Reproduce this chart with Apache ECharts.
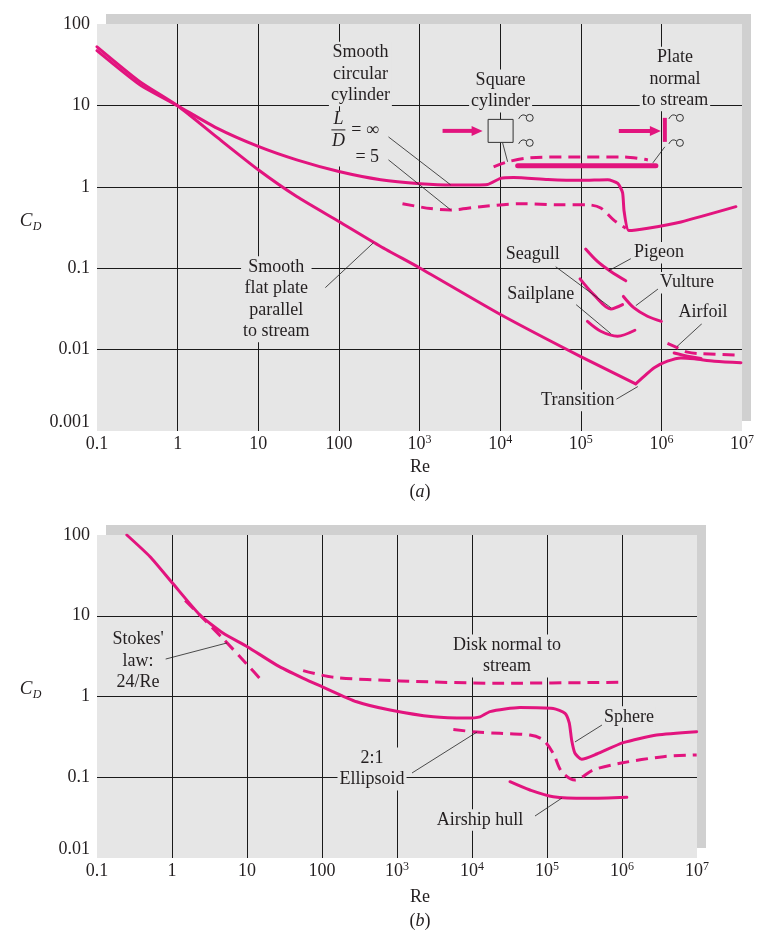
<!DOCTYPE html>
<html><head><meta charset="utf-8">
<script src="https://cdn.jsdelivr.net/npm/echarts@6/dist/echarts.min.js"></script>
<style>html,body{margin:0;padding:0;background:#fff}#c{width:774px;height:948px}</style>
</head><body><div id="c"></div>
<script>
const FONT = "'Liberation Serif','Times New Roman',serif";
const PINK = '#e2147e';
const TXT = '#231f20';
const BG = '#e6e6e6';
const SHADOW = '#d0d0d0';

// ---------- tick labels ----------
const xTickLabels = ['0.1','1','10','100','10^3','10^4','10^5','10^6','10^7'];   // exponent -1..7
const yTickLabelsA = ['0.001','0.01','0.1','1','10','100'];                      // exponent -3..2
const yTickLabelsB = ['0.01','0.1','1','10','100'];                              // exponent -2..2

// ---------- panel (a) data : [Re, CD] ----------
const flatPlate = [[0.1,52.5],[0.34,19.6],[1,9.9],[3.07,4.07],[10,1.62],[30,0.76],[100,0.375],[330,0.185],[1020,0.1],[10100,0.027],[1e5,0.0082],[4.8e5,0.0038]];
const flatTransition = [[4.8e5,0.0038],[6.1e5,0.0047],[8.15e5,0.006],[1.19e6,0.0072],[1.75e6,0.0079],[2.56e6,0.0077],[4.53e6,0.0072],[9.7e6,0.0069]];
const cylinderInf = [[0.1,47],[0.34,17.9],[1,9.9],[3.07,5.25],[10,3.13],[30,2.14],[100,1.54],[330,1.22],[1020,1.09],[2600,1.05],[7000,1.07],[10100,1.27],[14700,1.3],[39000,1.23],[1e5,1.2],[2.16e5,1.22],[2.88e5,1.1],[3.3e5,0.85],[3.45e5,0.5],[3.95e5,0.29],[6.8e5,0.31],[1.75e6,0.37],[8.4e6,0.57]];
const cylinder5 = [[615,0.62],[1370,0.54],[2430,0.52],[5730,0.57],[18000,0.62],[56000,0.6],[1.22e5,0.6],[1.77e5,0.55],[2.57e5,0.39],[3.62e5,0.31]];
const squareCyl = [[8300,1.76],[12400,2.03],[23900,2.27],[1e5,2.33],[3.42e5,2.33],[6.8e5,2.14]];
const plateNormal = [[16500,1.81],[8.55e5,1.81]];
const pigeon = [[1.15e5,0.172],[1.61e5,0.121],[2.36e5,0.091],[3.62e5,0.07]];
const seagull = [[9.8e4,0.074],[1.46e5,0.047],[2.36e5,0.0316],[3.3e5,0.0357]];
const vulture = [[3.38e5,0.045],[4.58e5,0.0325],[6.72e5,0.0257],[1.0e6,0.0222]];
const sailplane = [[1.21e5,0.0222],[1.77e5,0.0168],[2.86e5,0.0146],[4.69e5,0.0173]];
const airfoilSolid = [[1.44e6,0.0091],[2.11e6,0.0083],[3.1e6,0.0078]];
const airfoilDashed = [[1.19e6,0.0119],[1.59e6,0.0105],[2.11e6,0.0093],[3.1e6,0.0089],[8.4e6,0.0086]];

// ---------- panel (b) data ----------
const sphere = [[0.25,100],[0.51,53.8],[1.02,25.2],[2.36,10.2],[4.83,6.07],[10.1,4.14],[24.9,2.45],[56.4,1.68],[101,1.32],[290,0.86],[807,0.68],[3050,0.56],[8500,0.54],[12800,0.56],[17400,0.65],[43600,0.73],[1.21e5,0.71],[1.74e5,0.62],[1.98e5,0.47],[2.13e5,0.29],[2.36e5,0.198],[2.9e5,0.167],[4.6e5,0.194],[1.04e6,0.268],[2.9e6,0.333],[9.9e6,0.366]];
const stokes = [[1.5,15.5],[2.4,10],[4.8,5.2],[10,2.5],[16.5,1.5]];
const disk = [[56,2.09],[142,1.73],[1100,1.56],[23600,1.46],[9.2e5,1.5]];
const ellipsoid = [[5640,0.39],[11600,0.363],[23600,0.35],[59300,0.333],[89000,0.29],[1.21e5,0.198],[1.57e5,0.117],[2.36e5,0.0925],[4.14e5,0.123],[9.4e5,0.149],[3.56e6,0.18],[9.9e6,0.189]];
const airship = [[32100,0.088],[59300,0.0695],[1.21e5,0.0574],[3.38e5,0.0548],[1.16e6,0.0565]];

// ---------- annotations (positions as [log10 Re, log10 CD]) ----------
const notesA = [
  {text:'Smooth\ncircular\ncylinder', at:[2.267,1.387]},
  {text:'Square\ncylinder', at:[4.006,1.178]},
  {text:'Plate\nnormal\nto stream', at:[6.168,1.325]},
  {text:'Seagull', at:[4.404,-0.834]},
  {text:'Sailplane', at:[4.503,-1.325]},
  {text:'Pigeon', at:[5.969,-0.810]},
  {text:'Vulture', at:[6.317,-1.178]},
  {text:'Airfoil', at:[6.516,-1.546]},
  {text:'Transition', at:[4.963,-2.626]},
  {text:'Smooth\nflat plate\nparallel\nto stream', at:[1.224,-1.380]}
];
const leadersA = [
  [[2.615,0.613],[3.385,0.025]],
  [[2.615,0.331],[3.385,-0.282]],
  [[4.031,0.540],[4.093,0.307]],
  [[5.894,0.294],[6.043,0.491]],
  [[4.689,-0.982],[5.373,-1.485]],
  [[4.913,-1.423],[5.373,-1.804]],
  [[5.621,-0.883],[5.348,-1.031]],
  [[5.981,-1.239],[5.683,-1.460]],
  [[6.503,-1.681],[6.193,-1.963]],
  [[5.435,-2.613],[5.708,-2.454]],
  [[1.832,-1.239],[2.429,-0.687]]
];
const notesB = [
  {text:"Stokes'\nlaw:\n24/Re", at:[-0.453,0.440]},
  {text:'Disk normal to\nstream', at:[4.467,0.502]},
  {text:'Sphere', at:[6.093,-0.254]},
  {text:'2:1\nEllipsoid', at:[2.667,-0.898]},
  {text:'Airship hull', at:[4.107,-1.529]}
];
const leadersB = [
  [[-0.133,0.452],[0.733,0.663]],
  [[5.733,-0.353],[5.373,-0.563]],
  [[3.2,-0.947],[4.067,-0.440]],
  [[4.84,-1.480],[5.2,-1.257]]
];

const chart = echarts.init(document.getElementById('c'), null, {renderer:'canvas'});

function xFormatter(v){
  const e = Math.round(Math.log10(v));
  const t = xTickLabels[e+1] || '';
  if (t.indexOf('^') >= 0) { const p = t.split('^'); return '{b|'+p[0]+'}{s|'+p[1]+'}'; }
  return '{b|'+t+'}';
}
function yFormatter(labels, minExp){
  return v => labels[Math.round(Math.log10(v)) - minExp] || '';
}
const splitLine = {show:true, showMinLine:false, showMaxLine:false, lineStyle:{color:'#1a1a1a', width:1}};
function xAxis(g){
  return {type:'log', logBase:10, gridIndex:g, min:0.1, max:1e7, splitNumber:8,
    axisLine:{show:false}, axisTick:{show:false}, splitLine,
    axisLabel:{margin:3, formatter:xFormatter,
      rich:{b:{fontFamily:FONT, fontSize:18, color:TXT, lineHeight:20},
            s:{fontFamily:FONT, fontSize:12, color:TXT, lineHeight:12, verticalAlign:'top'}}}};
}
function yAxis(g, min, max, n, labels, minExp){
  return {type:'log', logBase:10, gridIndex:g, min, max, splitNumber:n,
    axisLine:{show:false}, axisTick:{show:false}, splitLine,
    axisLabel:{margin:7, fontFamily:FONT, fontSize:18, color:TXT, formatter:yFormatter(labels, minExp),
      verticalAlignMinLabel:'bottom'}};
}
function ln(g, data, opt){
  opt = opt || {};
  return {type:'line', xAxisIndex:g, yAxisIndex:g, data, showSymbol:false, symbol:'none',
    smooth: opt.smooth === undefined ? 0.3 : opt.smooth, silent:true, z:3,
    lineStyle:{color:PINK, width:opt.width||3, type:opt.dashed?[12,7]:'solid', cap:opt.dashed?'butt':'round', join:'round'}};
}

chart.setOption({
  animation:false,
  backgroundColor:'#ffffff',
  grid:[
    {left:97, top:24, width:645, height:407, show:true, backgroundColor:BG, borderWidth:0},
    {left:97, top:535, width:600, height:323, show:true, backgroundColor:BG, borderWidth:0}
  ],
  xAxis:[xAxis(0), xAxis(1)],
  yAxis:[yAxis(0, 0.001, 100, 5, yTickLabelsA, -3), yAxis(1, 0.01, 100, 4, yTickLabelsB, -2)],
  series:[
    ln(0, flatPlate, {smooth:0.2}),
    ln(0, flatTransition),
    ln(0, cylinderInf, {smooth:0.2}),
    ln(0, cylinder5, {dashed:true}),
    ln(0, squareCyl, {dashed:true}),
    ln(0, plateNormal, {smooth:false, width:5}),
    ln(0, pigeon), ln(0, seagull), ln(0, vulture), ln(0, sailplane),
    ln(0, airfoilSolid), ln(0, airfoilDashed, {dashed:true}),
    ln(1, sphere, {smooth:0.2}),
    ln(1, stokes, {dashed:true}),
    ln(1, disk, {dashed:true}),
    ln(1, ellipsoid, {dashed:true}),
    ln(1, airship)
  ]
});

function px(g, e){ return chart.convertToPixel({gridIndex:g}, [Math.pow(10,e[0]), Math.pow(10,e[1])]); }
const G = [];
// drop shadows behind the plot panels
[[0,[-1,2],[7,-3]],[1,[-1,2],[7,-2]]].forEach(([g,a,b]) => {
  const p0 = px(g,a), p1 = px(g,b);
  G.push({type:'rect', z:-10, shape:{x:p0[0]+9, y:p0[1]-10, width:p1[0]-p0[0], height:p1[1]-p0[1]}, style:{fill:SHADOW}});
});
function note(g, n){
  const p = px(g, n.at);
  G.push({type:'text', z:50, x:p[0], y:p[1], style:{text:n.text, font:'18px '+FONT, fill:TXT, align:'center', verticalAlign:'middle', lineHeight:21.5, backgroundColor:BG, padding:[0,2]}});
}
function leader(g, l){
  const a = px(g, l[0]), b = px(g, l[1]);
  G.push({type:'line', z:49, shape:{x1:a[0], y1:a[1], x2:b[0], y2:b[1]}, style:{stroke:'#222', lineWidth:0.8}});
}
notesA.forEach(n => note(0, n));
notesB.forEach(n => note(1, n));
leadersA.forEach(l => leader(0, l));
leadersB.forEach(l => leader(1, l));

// L/D fraction block
(function(){
  const c0 = px(0,[1.85,0.93]), c1 = px(0,[2.62,0.25]);
  G.push({type:'rect', z:45, shape:{x:c0[0], y:c0[1], width:c1[0]-c0[0], height:c1[1]-c0[1]}, style:{fill:BG}});
  const L = px(0,[1.994,0.834]), D = px(0,[1.994,0.564]);
  G.push({type:'text', z:50, x:L[0], y:L[1], style:{text:'L', font:'italic 18px '+FONT, fill:TXT, align:'center', verticalAlign:'middle'}});
  G.push({type:'text', z:50, x:D[0], y:D[1], style:{text:'D', font:'italic 18px '+FONT, fill:TXT, align:'center', verticalAlign:'middle'}});
  const b0 = px(0,[1.907,0.699]), b1 = px(0,[2.081,0.699]);
  G.push({type:'line', z:50, shape:{x1:b0[0], y1:b0[1], x2:b1[0], y2:b1[1]}, style:{stroke:TXT, lineWidth:1}});
  const e1 = px(0,[2.155,0.699]), e2 = px(0,[2.205,0.368]);
  G.push({type:'text', z:50, x:e1[0], y:e1[1], style:{text:'= ∞', font:'18px '+FONT, fill:TXT, align:'left', verticalAlign:'middle'}});
  G.push({type:'text', z:50, x:e2[0], y:e2[1], style:{text:'= 5', font:'18px '+FONT, fill:TXT, align:'left', verticalAlign:'middle'}});
})();

// flow icons
function arrow(g, from, to){
  const a = px(g, from), b = px(g, to);
  G.push({type:'line', z:50, shape:{x1:a[0], y1:a[1], x2:b[0]-9, y2:b[1]}, style:{stroke:PINK, lineWidth:4}});
  G.push({type:'polygon', z:50, shape:{points:[[b[0]-11,b[1]-5],[b[0],b[1]],[b[0]-11,b[1]+5]]}, style:{fill:PINK}});
}
function curl(g, at){
  const p = px(g, at);
  G.push({type:'circle', z:50, shape:{cx:p[0]+2, cy:p[1], r:3.5}, style:{fill:'none', stroke:'#333', lineWidth:1}});
  G.push({type:'bezierCurve', z:50, shape:{x1:p[0]-9, y1:p[1]+1, cpx1:p[0]-6, cpy1:p[1]-5, x2:p[0]-1.5, y2:p[1]-2}, style:{fill:'none', stroke:'#333', lineWidth:1}});
}
arrow(0,[3.286,0.687],[3.783,0.687]);
(function(){
  const c = px(0,[4.006,0.687]);
  G.push({type:'rect', z:50, shape:{x:c[0]-12.5, y:c[1]-11.5, width:25, height:23}, style:{fill:BG, stroke:'#333', lineWidth:1}});
})();
curl(0,[4.342,0.847]); curl(0,[4.342,0.540]);
arrow(0,[5.472,0.687],[5.994,0.687]);
(function(){
  const a = px(0,[6.043,0.847]), b = px(0,[6.043,0.552]);
  G.push({type:'line', z:50, shape:{x1:a[0], y1:a[1], x2:b[0], y2:b[1]}, style:{stroke:PINK, lineWidth:4}});
})();
curl(0,[6.205,0.847]); curl(0,[6.205,0.540]);

// axis titles
function cd(x, y){
  G.push({type:'text', z:50, x:x, y:y, style:{text:'C', font:'italic 19px '+FONT, fill:TXT, align:'center', verticalAlign:'middle'}});
  G.push({type:'text', z:50, x:x+11, y:y+6, style:{text:'D', font:'italic 12px '+FONT, fill:TXT, align:'center', verticalAlign:'middle'}});
}
cd(26, 221); cd(26, 689);
function label(x, y, text){
  G.push({type:'text', z:50, x:x, y:y, style:{text:text, font:'18px '+FONT, fill:TXT, align:'center', verticalAlign:'middle',
    rich:{i:{font:'italic 18px '+FONT, fill:TXT}}}});
}
label(420, 467, 'Re'); label(420, 492, '({i|a})');
label(420, 897, 'Re'); label(420, 921, '({i|b})');

chart.setOption({graphic:{elements:G}});
</script>
</body></html>
